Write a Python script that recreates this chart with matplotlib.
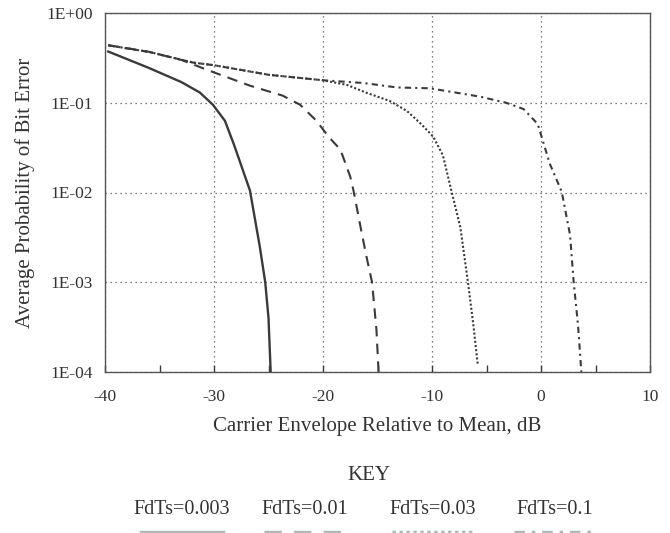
import matplotlib
matplotlib.use("Agg")
import matplotlib.pyplot as plt
from matplotlib.lines import Line2D
from matplotlib.ticker import FixedLocator, MultipleLocator

plt.rcParams['font.family'] = ['Liberation Serif', 'DejaVu Serif']

# curves (x in dB, y = average bit error probability)
x_003 = [-39.7, -36.0, -33.0, -31.3, -30.1, -29.0, -28.2, -27.5, -26.7, -25.8, -25.3, -25.0, -24.8]
p_003 = [0.372, 0.245, 0.17, 0.13, 0.095, 0.063, 0.035, 0.02, 0.0105, 0.0025, 0.001, 0.0004, 0.0001]

x_01 = [-39.7, -36.0, -33.0, -30.1, -26.7, -23.7, -22.1, -20.6, -19.5, -18.4, -17.5, -17.2, -16.6,
        -16.0, -15.5, -15.1, -14.9]
p_01 = [0.437, 0.37, 0.30, 0.22, 0.155, 0.12, 0.095, 0.063, 0.042, 0.030, 0.015, 0.0105, 0.0044,
        0.0019, 0.001, 0.0003, 0.0001]

x_03 = [-39.7, -35.9, -31.9, -30.0, -25.0, -20.0, -17.8, -16.0, -13.9, -12.3, -11.0, -9.9, -9.0,
        -8.2, -7.4, -6.7, -6.2, -5.8]
p_03 = [0.437, 0.367, 0.28, 0.262, 0.205, 0.178, 0.158, 0.129, 0.105, 0.081, 0.058, 0.042, 0.026,
        0.0102, 0.0041, 0.001, 0.00033, 0.00012]

x_1 = [-39.7, -35.9, -31.9, -30.0, -25.0, -20.0, -16.3, -13.2, -10.2, -7.7, -5.6, -3.2, -1.6,
       -0.3, 0.8, 1.9, 2.66, 3.0, 3.4, 3.7]
p_1 = [0.437, 0.367, 0.28, 0.262, 0.205, 0.178, 0.166, 0.148, 0.145, 0.129, 0.117, 0.10, 0.085,
       0.058, 0.021, 0.0102, 0.0034, 0.001, 0.00033, 0.0001]

labels = ['FdTs=0.003', 'FdTs=0.01', 'FdTs=0.03', 'FdTs=0.1']
y_ticks = [1e-4, 1e-3, 1e-2, 1e-1, 1e0]
y_tick_labels = ['1E-04', '1E-03', '1E-02', '1E-01', '1E+00']
x_ticks = [-40, -30, -20, -10, 0, 10]

ink = '#3a3a3a'
styles = [
    dict(ls='-', lw=1.7),
    dict(ls=(0, (5, 3.5)), lw=1.5),
    dict(ls=(0, (1, 1)), lw=1.5),
    dict(ls=(0, (3, 2, 1, 2)), lw=1.5),
]

fig = plt.figure(figsize=(6.7, 5.33), dpi=100)
ax = fig.add_axes([105 / 670, 1 - 372 / 533, 545 / 670, 359 / 533])

series = [(x_003, p_003), (x_01, p_01), (x_03, p_03), (x_1, p_1)]
for (xs, ps), st in zip(series, styles):
    ax.plot(xs, ps, color=ink, **st)

ax.set_yscale('log')
ax.set_xlim(-40, 10)
ax.set_ylim(1e-4, 1)
ax.yaxis.set_major_locator(FixedLocator(y_ticks))
ax.yaxis.set_minor_locator(FixedLocator([]))
ax.set_yticklabels(y_tick_labels)
ax.set_xticks(x_ticks)
ax.set_xticklabels([str(v) for v in x_ticks])
ax.xaxis.set_minor_locator(MultipleLocator(5))

ax.grid(True, which='major', ls=(0, (1, 3)), color='#555555', lw=0.9)
ax.tick_params(axis='x', which='both', direction='in', length=5, width=1, color=ink,
               labelsize=12.5, pad=12, labelcolor='#333333')
ax.tick_params(axis='y', which='both', length=0, labelsize=12.5, pad=9, labelcolor='#333333')
for sp in ax.spines.values():
    sp.set_color('#555555')
    sp.set_linewidth(1.0)

ax.set_xlabel('Carrier Envelope Relative to Mean, dB', fontsize=15, color='#333333', labelpad=9)
ax.set_ylabel('Average Probability of Bit Error', fontsize=15, color='#333333', labelpad=8)

# key below the plot (line samples are cut by the bottom edge, as in the scan)
fig.text(369 / 670, 1 - 475 / 533, 'KEY', ha='center', va='center', fontsize=15, color='#333333')
centers = [182, 305, 433, 555]
for c, lab, st in zip(centers, labels, styles):
    fig.text(c / 670, 1 - 510 / 533, lab, ha='center', va='center', fontsize=14.5, color='#333333')
    fig.add_artist(Line2D([(c - 41) / 670, (c + 41) / 670], [0.0015, 0.0015],
                          transform=fig.transFigure, color='#a9bab7', ls=st['ls'], lw=2.5))

fig.savefig('out.png', dpi=100)
